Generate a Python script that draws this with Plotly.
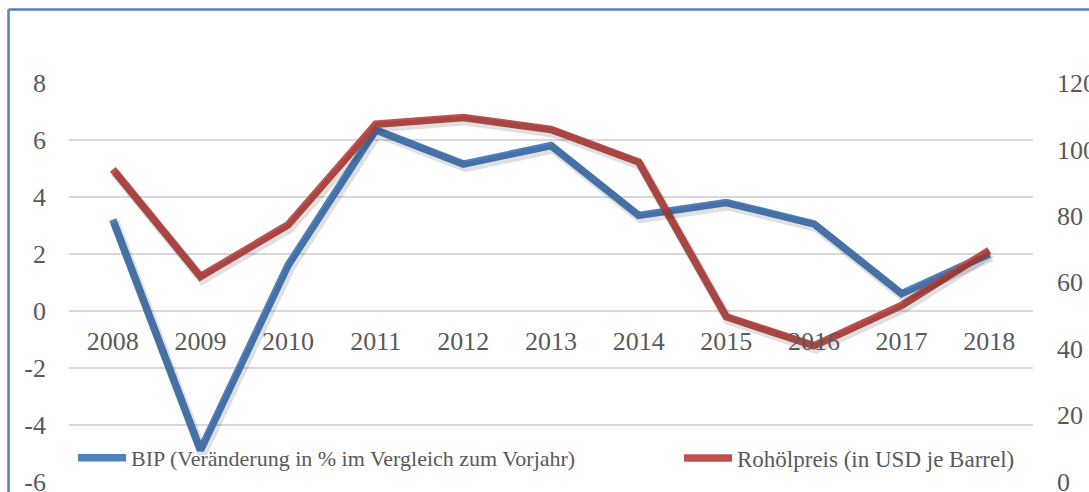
import plotly.graph_objects as go

years = ["2008", "2009", "2010", "2011", "2012", "2013", "2014", "2015", "2016", "2017", "2018"]
bip = [3.2, -4.9, 1.6, 6.35, 5.15, 5.8, 3.35, 3.8, 3.05, 0.6, 2.0]
oil = [94.0, 61.7, 77.3, 107.6, 109.6, 106.0, 96.2, 49.6, 40.9, 53.0, 69.6]

left_ticks = [-6, -4, -2, 0, 2, 4, 6, 8]
left_labels = ["-6", "-4", "-2", "0", "2", "4", "6", "8"]
right_ticks = [0, 20, 40, 60, 80, 100, 120]
right_labels = ["0", "20", "40", "60", "80", "100", "120"]

BLUE = "#4F81BD"
RED = "#C0504D"
FONT = "Liberation Serif"
TXT = "#595959"
SHADOW = "rgba(0,0,0,0.12)"

W, H = 1089, 492
ML, MR, MT, MB = 69, 56, 83, 10
PW = W - ML - MR
PH = H - MT - MB

def px(x):
    return (x - ML) / PW

def py(y):
    return (H - MB - y) / PH

# tiny extension below the lowest tick so the end tick/grid is kept
EPS_L = 0.02
EPS_R = EPS_L * 120 / 14
YL = [-6 - EPS_L, 8]
YR = [0 - EPS_R, 120]

# pixel offsets for the soft drop shadow
SX, SY = 2.0, 3.0
dx = SX / (PW / 11)
dy_l = SY / (PH / (YL[1] - YL[0]))
dy_r = SY / (PH / (YR[1] - YR[0]))

fig = go.Figure()
fig.add_trace(go.Scatter(x=years, y=bip, mode="lines", showlegend=False, hoverinfo="skip",
                         line=dict(color=SHADOW, width=10), xaxis="x2", yaxis="y3"))
fig.add_trace(go.Scatter(x=years, y=oil, mode="lines", showlegend=False, hoverinfo="skip",
                         line=dict(color=SHADOW, width=10), xaxis="x2", yaxis="y4"))
fig.add_trace(go.Scatter(
    x=years, y=bip, mode="lines", name="BIP (Veränderung in % im Vergleich zum Vorjahr)",
    line=dict(color=BLUE, width=7.5), yaxis="y", legend="legend"))
fig.add_trace(go.Scatter(
    x=years, y=oil, mode="lines", name="Rohölpreis (in USD je Barrel)",
    line=dict(color=RED, width=7.5), yaxis="y2", legend="legend2"))

tickfont = dict(family=FONT, size=26, color=TXT)
legfont = dict(family=FONT, size=22, color=TXT)
legfont2 = dict(family=FONT, size=23, color=TXT)

fig.update_layout(
    template="none",
    width=W, height=H,
    margin=dict(l=ML, r=MR, t=MT, b=MB, pad=0),
    paper_bgcolor="white", plot_bgcolor="white",
    font=dict(family=FONT, size=22, color=TXT),
    xaxis=dict(type="category", range=[-0.5, 10.5], anchor="free", automargin=False,
               position=(0 - YL[0]) / (YL[1] - YL[0]), showgrid=False, zeroline=False,
               showline=False, ticks="", ticklabelstandoff=12, tickfont=tickfont),
    xaxis2=dict(type="category", range=[-0.5 - dx, 10.5 - dx], overlaying="x",
                visible=False, automargin=False),
    yaxis=dict(range=YL, tickvals=left_ticks, ticktext=left_labels, showgrid=True,
               gridcolor="#D9D9D9", gridwidth=1.5, zeroline=False, showline=False, ticks="",
               automargin=False, ticklabelstandoff=22, ticklabeloverflow="allow",
               tickfont=tickfont),
    yaxis2=dict(range=YR, tickvals=right_ticks, ticktext=right_labels, overlaying="y",
                side="right", showgrid=False, zeroline=False, showline=False, ticks="",
                automargin=False, ticklabelstandoff=23, ticklabeloverflow="allow",
                tickfont=tickfont),
    yaxis3=dict(range=[YL[0] + dy_l, YL[1] + dy_l], overlaying="y", visible=False,
                automargin=False),
    yaxis4=dict(range=[YR[0] + dy_r, YR[1] + dy_r], overlaying="y", visible=False,
                automargin=False),
    legend=dict(orientation="h", x=px(73), y=py(458), xanchor="left", yanchor="middle",
                bgcolor="rgba(0,0,0,0)", font=legfont, itemwidth=48),
    legend2=dict(orientation="h", x=px(679), y=py(458), xanchor="left", yanchor="middle",
                 bgcolor="rgba(0,0,0,0)", font=legfont2, itemwidth=48),
    shapes=[
        dict(type="line", xref="paper", yref="paper", x0=px(8.5), x1=px(8.5),
             y0=py(9.5), y1=py(H + 5), line=dict(color=BLUE, width=2.5)),
        dict(type="line", xref="paper", yref="paper", x0=px(8.5), x1=px(W + 5),
             y0=py(9.5), y1=py(9.5), line=dict(color=BLUE, width=2.5)),
    ],
)

fig.write_html("out.html", config={"displayModeBar": False},
               post_script="document.body.style.margin='0';")
